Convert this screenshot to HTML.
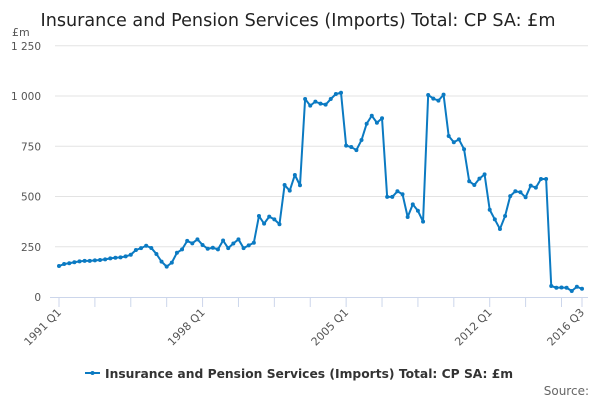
<!DOCTYPE html>
<html><head><meta charset="utf-8"><style>
body{margin:0;background:#fff;font-family:"DejaVu Sans","Liberation Sans",sans-serif;}
svg text{font-family:"DejaVu Sans","Liberation Sans",sans-serif;}
</style></head><body>
<svg id="chart" width="600" height="400" xmlns="http://www.w3.org/2000/svg">
<text x="298" y="26" text-anchor="middle" font-size="17.6" fill="#222">Insurance and Pension Services (Imports) Total: CP SA: £m</text>
<text x="12" y="36" font-size="11" fill="#555">£m</text>
<g id="grid"></g><g id="xaxis"></g><g id="series"></g>
<g>
<line x1="85" y1="373" x2="100" y2="373" stroke="#0b7ac2" stroke-width="2"/>
<circle cx="92.5" cy="373" r="2" fill="#0b7ac2"/>
<text x="105" y="378" font-size="12.3" font-weight="bold" fill="#333">Insurance and Pension Services (Imports) Total: CP SA: £m</text>
</g>
<text x="589" y="395" text-anchor="end" font-size="12" fill="#666">Source:</text>
</svg>
<script>
const yTicks=[0,250,500,750,1000,1250];
const yTickLabels=["0","250","500","750","1 000","1 250"];
const xLabelIdx=[0,28,56,84,102];
const xLabels=["1991 Q1","1998 Q1","2005 Q1","2012 Q1","2016 Q3"];
const values=[154,164,168,173,177,180,180,182,184,187,192,195,197,202,210,234,243,255,244,214,176,151,171,220,237,279,267,287,259,240,245,237,281,243,266,287,243,257,270,403,365,400,386,362,557,529,607,556,985,952,972,962,957,985,1010,1016,753,746,731,781,862,902,867,889,498,498,526,511,398,461,429,375,1005,987,977,1007,801,770,784,735,576,557,589,610,434,386,338,403,502,526,521,496,554,544,587,587,55,46,47,46,30,51,41];
const NS="http://www.w3.org/2000/svg";
const x0=59,x1=582,y0=297,yScale=201/1000;
function xp(i){return x0+(x1-x0)*i/(values.length-1);}
function yp(v){return y0-v*yScale;}
function mk(t,a,p){const e=document.createElementNS(NS,t);for(const k in a)e.setAttribute(k,a[k]);p.appendChild(e);return e;}
const grid=document.getElementById('grid');
yTicks.forEach((v,k)=>{
 if(v>0){const l=mk('line',{x1:55,x2:588,y1:yp(v),y2:yp(v),stroke:'#e3e3e3','stroke-width':1},grid);
 
 }
 const t=mk('text',{x:41,y:yp(v)+4,'text-anchor':'end','font-size':10.5,fill:'#555'},grid);
 t.textContent=yTickLabels[k];
 
 
});
const xa=document.getElementById('xaxis');
const ax=mk('line',{x1:50,x2:588,y1:297.5,y2:297.5,stroke:'#ccd6eb','stroke-width':1},xa);


const tickIdx=[];for(let i=0;i<values.length;i+=7)tickIdx.push(i);tickIdx.push(values.length-1);
tickIdx.forEach(i=>{const t=mk('line',{x1:xp(i),x2:xp(i),y1:297,y2:307,stroke:'#ccd6eb','stroke-width':1},xa);
 
 });
xLabelIdx.forEach((i,k)=>{const x=xp(i)+3,y=313;
 const t=mk('text',{x:x,y:y,'text-anchor':'end','font-size':11,fill:'#555',transform:`rotate(-45 ${x} ${y})`},xa);
 t.textContent=xLabels[k];
 
 });
const sg=document.getElementById('series');
const pl=mk('polyline',{points:values.map((v,i)=>xp(i)+','+yp(v)).join(' '),fill:'none',stroke:'#0b7ac2','stroke-width':2,'stroke-linejoin':'round'},sg);


values.forEach((v,i)=>{const c=mk('circle',{cx:xp(i),cy:yp(v),r:2,fill:'#0b7ac2'},sg);
 
 });
</script>
</body></html>
